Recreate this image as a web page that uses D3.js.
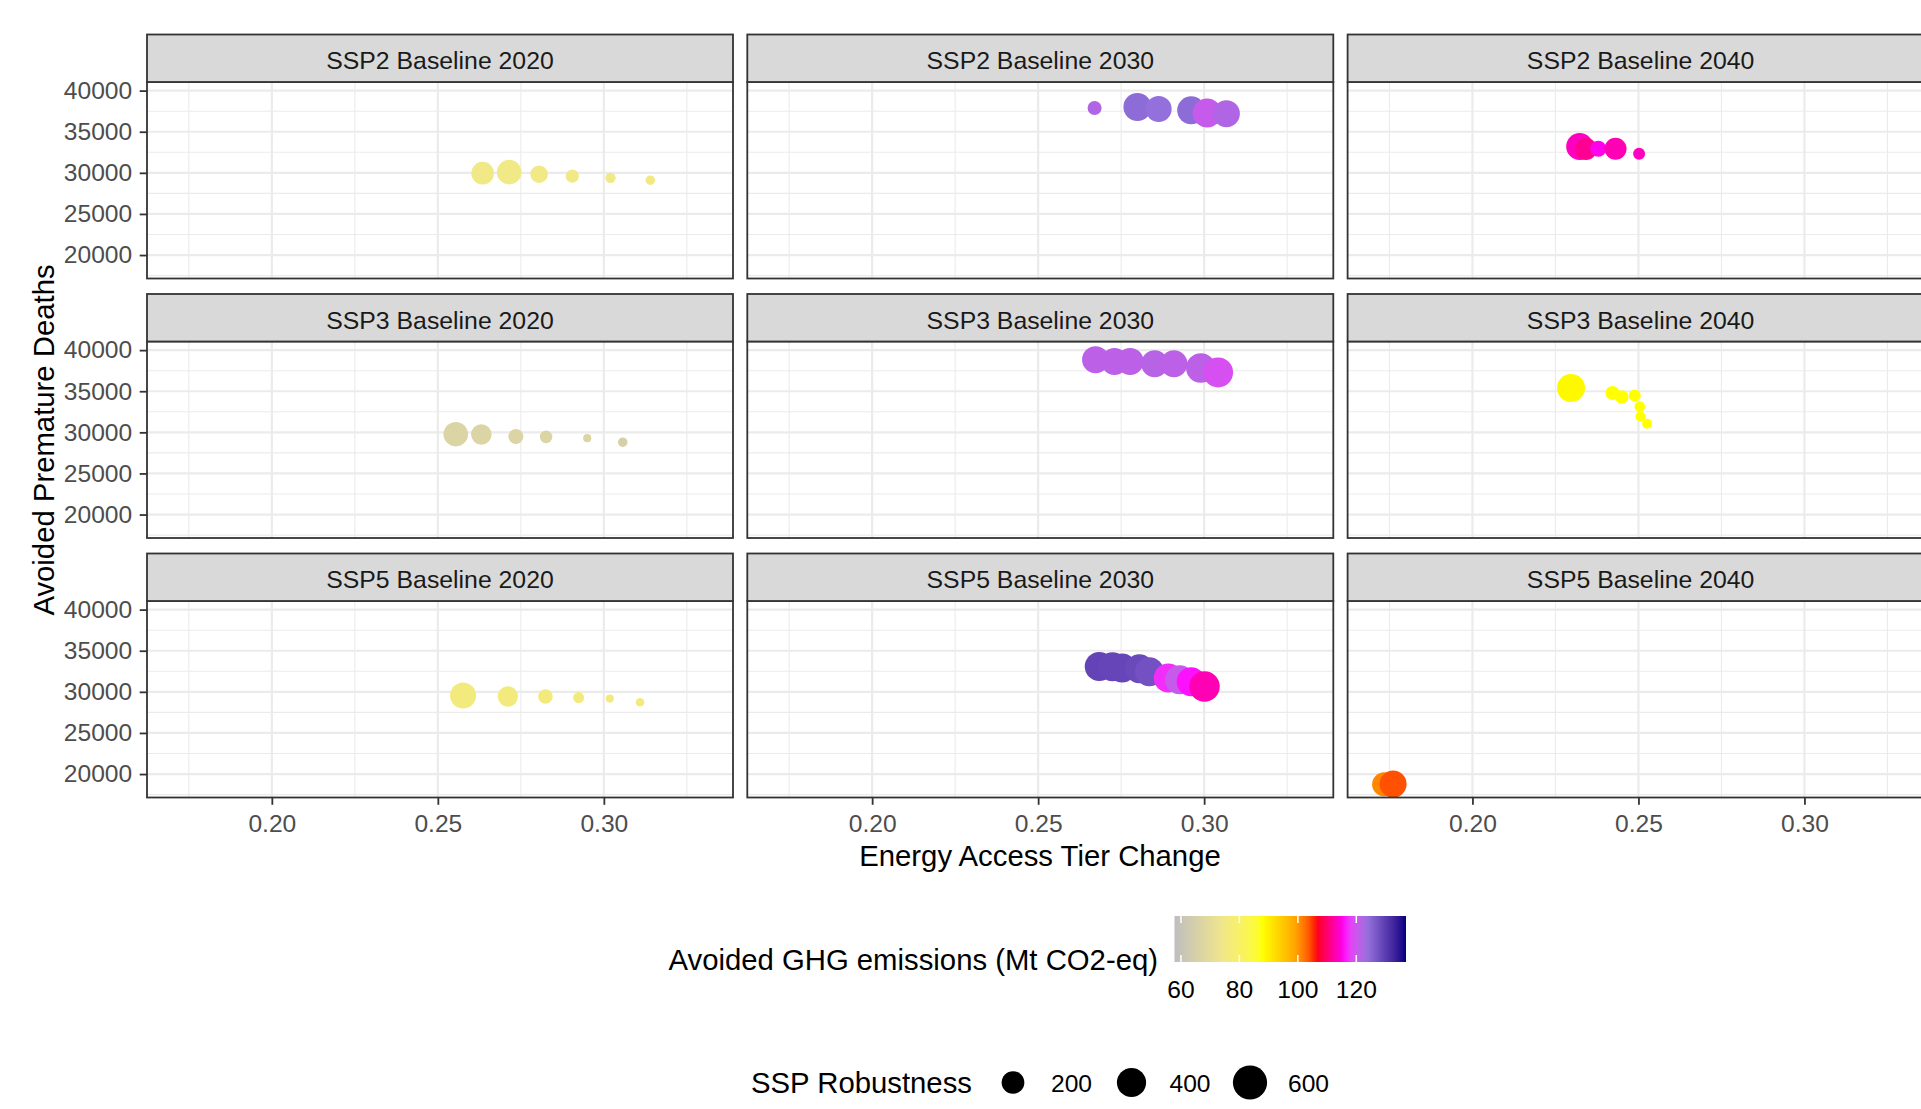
<!DOCTYPE html>
<html>
<head>
<meta charset="utf-8">
<script src="https://cdn.jsdelivr.net/npm/d3@7"></script>
<style>
  body { margin: 0; background: #fff; }
  svg { display: block; font-family: "Liberation Sans", Arial, sans-serif; }
</style>
</head>
<body>
<svg id="chart" width="1921" height="1109"></svg>
<script>
// === DATA ===
const scenarios = ["SSP2", "SSP3", "SSP5"];
const years = [2020, 2030, 2040];

// one row per point: [tier change, avoided deaths, avoided GHG (Mt CO2-eq), SSP robustness]
const ssp2_2020 = [
    [0.2635, 29960, 75, 197], [0.2715, 30085, 75, 249], [0.2805, 29840, 75, 89],
    [0.2905, 29600, 75, 31], [0.3020, 29390, 75, 9], [0.3140, 29110, 75, 5]
];
const ssp2_2030 = [
    [0.2670, 37890, 122, 40], [0.2799, 38010, 124.5, 358], [0.2863, 37770, 124, 293],
    [0.2961, 37600, 124.5, 358], [0.3009, 37280, 120.4, 393], [0.3067, 37200, 122, 325]
];
const ssp2_2040 = [
    [0.2323, 33210, 113.5, 325], [0.2342, 32890, 111.5, 183], [0.2379, 32930, 115.3, 66],
    [0.2431, 32930, 113, 183], [0.2502, 32320, 113.5, 20]
];
const ssp3_2020 = [
    [0.2554, 29780, 66.7, 249], [0.2631, 29730, 66.7, 148], [0.2735, 29490, 66.7, 52],
    [0.2826, 29450, 66.7, 25], [0.2950, 29290, 66.7, 1], [0.3057, 28800, 65, 5]
];
const ssp3_2030 = [
    [0.2673, 38840, 121.2, 325], [0.2730, 38630, 121.2, 325], [0.2777, 38630, 121.2, 325],
    [0.2851, 38350, 121.6, 325], [0.2909, 38350, 121.2, 325], [0.2990, 37830, 121.2, 411],
    [0.3042, 37290, 119.2, 429]
];
const ssp3_2040 = [
    [0.2297, 35390, 88.8, 358], [0.2422, 34780, 88, 40], [0.2450, 34290, 88, 34],
    [0.2489, 34490, 88, 20], [0.2504, 33150, 88, 10], [0.2506, 31930, 88, 7],
    [0.2526, 31040, 88, 7]
];
const ssp5_2020 = [
    [0.2576, 29550, 76.5, 293], [0.2711, 29430, 76.5, 144], [0.2824, 29430, 76.5, 46],
    [0.2924, 29300, 76.5, 13], [0.3018, 29180, 76.5, 1], [0.3109, 28740, 76.5, 2]
];
const ssp5_2030 = [
    [0.2684, 33090, 129.2, 393], [0.2724, 33050, 129, 393], [0.2753, 32890, 129, 393],
    [0.2805, 32800, 128.5, 393], [0.2835, 32440, 127.5, 393], [0.2892, 31670, 117, 393],
    [0.2926, 31460, 120.4, 393], [0.2961, 31220, 116.2, 393], [0.3001, 30650, 113, 448]
];
const ssp5_2040 = [
    [0.1734, 18744, 101, 235], [0.1761, 18780, 104, 325]
];

const xDomain = [0.1624, 0.3389];
const yDomain = [17147, 41049];
const xTicks = [0.20, 0.25, 0.30];
const xMinorTicks = [0.175, 0.225, 0.275, 0.325];
const yTicks = [20000, 25000, 30000, 35000, 40000];
const yMinorTicks = [17500, 22500, 27500, 32500, 37500];

const ghgDomain = [57.8, 137];
const ghgStops = [57.8, 74, 88, 99, 106, 116, 124, 137];
const ghgColors = ["#BEBEBE", "#F0E68C", "#FFFF00", "#FFA500", "#FF0000", "#FF00FF", "#9370DB", "#000080"];
const ghgTicks = [60, 80, 100, 120];
const robustnessBreaks = [200, 400, 600];

const panels = {
    "SSP2 2020": ssp2_2020, "SSP2 2030": ssp2_2030, "SSP2 2040": ssp2_2040,
    "SSP3 2020": ssp3_2020, "SSP3 2030": ssp3_2030, "SSP3 2040": ssp3_2040,
    "SSP5 2020": ssp5_2020, "SSP5 2030": ssp5_2030, "SSP5 2040": ssp5_2040
};

// === LAYOUT ===
const colLeft = [147, 747.3, 1347.6];
const stripTop0 = 34.5, rowStep = 259.5;
const stripH = 47.5, panelW = 586, panelH = 196.5;
const borderCol = "#333333";
const smallFont = 24.6, bigFont = 29.3;

const svg = d3.select("#chart");
const defs = svg.append("defs");

const x = d3.scaleLinear().domain(xDomain).range([0, panelW]);
const y = d3.scaleLinear().domain(yDomain).range([panelH, 0]);
const color = d3.scaleLinear().domain(ghgStops).range(ghgColors).interpolate(d3.interpolateLab).clamp(true);
const radius = d3.scaleSqrt().domain([0, 600]).range([3.5, 17.1]);

defs.append("clipPath").attr("id", "panel-clip")
    .append("rect").attr("width", panelW).attr("height", panelH);

scenarios.forEach((scen, r) => {
    years.forEach((yr, c) => {
        const left = colLeft[c];
        const sTop = stripTop0 + r * rowStep;
        const pTop = sTop + stripH;
        const g = svg.append("g").attr("transform", `translate(${left},${pTop})`);

        // grid
        g.selectAll(".gminx").data(xMinorTicks).join("line")
            .attr("x1", d => x(d)).attr("x2", d => x(d)).attr("y1", 0).attr("y2", panelH)
            .attr("stroke", "#EBEBEB").attr("stroke-width", 1.1);
        g.selectAll(".gminy").data(yMinorTicks).join("line")
            .attr("y1", d => y(d)).attr("y2", d => y(d)).attr("x1", 0).attr("x2", panelW)
            .attr("stroke", "#EBEBEB").attr("stroke-width", 1.1);
        g.selectAll(".gmajx").data(xTicks).join("line")
            .attr("x1", d => x(d)).attr("x2", d => x(d)).attr("y1", 0).attr("y2", panelH)
            .attr("stroke", "#EBEBEB").attr("stroke-width", 2.2);
        g.selectAll(".gmajy").data(yTicks).join("line")
            .attr("y1", d => y(d)).attr("y2", d => y(d)).attr("x1", 0).attr("x2", panelW)
            .attr("stroke", "#EBEBEB").attr("stroke-width", 2.2);

        // points
        g.append("g").attr("clip-path", "url(#panel-clip)")
            .selectAll("circle").data(panels[`${scen} ${yr}`]).join("circle")
            .attr("cx", d => x(d[0])).attr("cy", d => y(d[1]))
            .attr("r", d => radius(d[3]))
            .attr("fill", d => color(d[2]));

        g.append("rect").attr("width", panelW).attr("height", panelH)
            .attr("fill", "none").attr("stroke", borderCol).attr("stroke-width", 1.8);

        // strip
        svg.append("rect").attr("x", left).attr("y", sTop).attr("width", panelW).attr("height", stripH)
            .attr("fill", "#D9D9D9").attr("stroke", borderCol).attr("stroke-width", 1.8);
        svg.append("text").attr("x", left + panelW / 2).attr("y", sTop + stripH / 2 + 10.8)
            .attr("text-anchor", "middle").attr("font-size", 24.8).attr("fill", "#1A1A1A")
            .text(`${scen} Baseline ${yr}`);

        // axes
        if (c === 0) {
            const ax = g.append("g").call(d3.axisLeft(y).tickValues(yTicks).tickSize(7.3).tickPadding(7.5).tickFormat(d3.format("d")));
            ax.select(".domain").remove();
            ax.selectAll(".tick line").attr("stroke", borderCol).attr("stroke-width", 1.8);
            ax.selectAll(".tick text").attr("font-size", smallFont).attr("fill", "#4D4D4D")
                .attr("font-family", "Liberation Sans, Arial, sans-serif");
        }
        if (r === scenarios.length - 1) {
            const ax = g.append("g").attr("transform", `translate(0,${panelH})`)
                .call(d3.axisBottom(x).tickValues(xTicks).tickSize(7.3).tickPadding(9.5).tickFormat(d3.format(".2f")));
            ax.select(".domain").remove();
            ax.selectAll(".tick line").attr("stroke", borderCol).attr("stroke-width", 1.8);
            ax.selectAll(".tick text").attr("font-size", smallFont).attr("fill", "#4D4D4D")
                .attr("font-family", "Liberation Sans, Arial, sans-serif");
        }
    });
});

// axis titles
svg.append("text").attr("x", 1040).attr("y", 866).attr("text-anchor", "middle")
    .attr("font-size", bigFont).attr("fill", "#000").text("Energy Access Tier Change");
svg.append("text").attr("transform", "translate(53.5,440) rotate(-90)").attr("text-anchor", "middle")
    .attr("font-size", bigFont).attr("fill", "#000").text("Avoided Premature Deaths");

// === COLOUR LEGEND ===
const barX = d3.scaleLinear().domain(ghgDomain).range([1174.5, 1406]);
const barTop = 916, barH = 46;
const grad = defs.append("linearGradient").attr("id", "ghg-grad");
d3.range(0, 1.0001, 0.02).forEach(t => {
    grad.append("stop").attr("offset", t)
        .attr("stop-color", color(ghgDomain[0] + t * (ghgDomain[1] - ghgDomain[0])));
});
svg.append("rect").attr("x", barX.range()[0]).attr("y", barTop)
    .attr("width", barX.range()[1] - barX.range()[0]).attr("height", barH)
    .attr("fill", "url(#ghg-grad)");
ghgTicks.forEach(t => {
    svg.append("line").attr("x1", barX(t)).attr("x2", barX(t)).attr("y1", barTop).attr("y2", barTop + 7)
        .attr("stroke", "#fff").attr("stroke-width", 1.5);
    svg.append("line").attr("x1", barX(t)).attr("x2", barX(t)).attr("y1", barTop + barH - 7).attr("y2", barTop + barH)
        .attr("stroke", "#fff").attr("stroke-width", 1.5);
    svg.append("text").attr("x", barX(t)).attr("y", 997.5).attr("text-anchor", "middle")
        .attr("font-size", smallFont).attr("fill", "#000").text(t);
});
svg.append("text").attr("x", 1158).attr("y", 970).attr("text-anchor", "end")
    .attr("font-size", bigFont).attr("fill", "#000").text("Avoided GHG emissions (Mt CO2-eq)");

// === SIZE LEGEND ===
svg.append("text").attr("x", 751).attr("y", 1093).attr("font-size", bigFont).attr("fill", "#000")
    .text("SSP Robustness");
robustnessBreaks.forEach((b, i) => {
    const cx = 1013 + i * 118.5;
    svg.append("circle").attr("cx", cx).attr("cy", 1082.5).attr("r", radius(b)).attr("fill", "#000");
    svg.append("text").attr("x", cx + 38).attr("y", 1091.5).attr("font-size", smallFont).attr("fill", "#000").text(b);
});
</script>
</body>
</html>
